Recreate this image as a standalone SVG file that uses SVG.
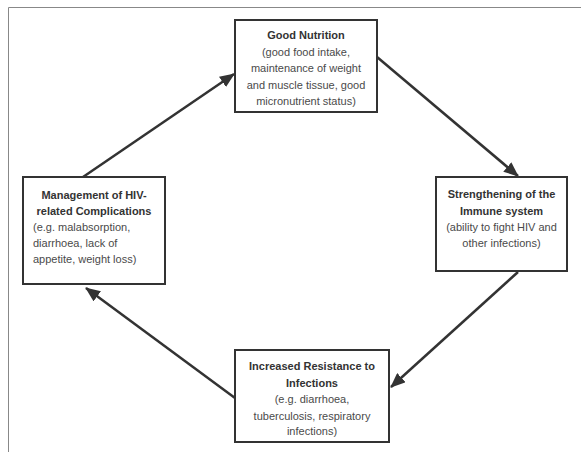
<svg xmlns="http://www.w3.org/2000/svg" width="581" height="452" viewBox="0 0 581 452">
<defs>
<style>
.box{fill:#fff;stroke:#333;stroke-width:2}
.t{font-family:"Liberation Sans",Arial,sans-serif;font-size:11px;fill:#4a4a4a;text-anchor:middle}
.b{font-weight:bold;fill:#333}
.l{text-anchor:start}
.arr{stroke:#333;stroke-width:2.5;fill:none;marker-end:url(#ah)}
.frame{stroke:#888;stroke-width:1;fill:none}
</style>
<marker id="ah" markerWidth="6" markerHeight="5" refX="5.6" refY="2.5" orient="auto" markerUnits="strokeWidth">
<path d="M0,0 L6,2.5 L0,5 z" fill="#333"/>
</marker>
</defs>
<rect width="581" height="452" fill="#fff"/>
<path class="frame" d="M8.5,452 V7.5 H581"/>
<g id="connectors">
<line class="arr" x1="83" y1="177" x2="234" y2="74"/>
<line class="arr" x1="377" y1="57" x2="518" y2="176"/>
<line class="arr" x1="518" y1="272" x2="391" y2="387"/>
<line class="arr" x1="235" y1="398" x2="86" y2="288"/>
</g>
<g id="good-nutrition">
<rect class="box" x="235" y="20" width="142" height="92"/>
<text class="t b" x="306" y="39">Good Nutrition</text>
<text class="t" x="306" y="55.5">(good food intake,</text>
<text class="t" x="306" y="72">maintenance of weight</text>
<text class="t" x="306" y="88.5">and muscle tissue, good</text>
<text class="t" x="306" y="105">micronutrient status)</text>
</g>
<g id="immune">
<rect class="box" x="436" y="177" width="131" height="94"/>
<text class="t b" x="501.5" y="198">Strengthening of the</text>
<text class="t b" x="501.5" y="215">Immune system</text>
<text class="t" x="501.5" y="231">(ability to fight HIV and</text>
<text class="t" x="501.5" y="247">other infections)</text>
</g>
<g id="resistance">
<rect class="box" x="235" y="350" width="154" height="92"/>
<text class="t b" x="312" y="370">Increased Resistance to</text>
<text class="t b" x="312" y="387">Infections</text>
<text class="t" x="312" y="403">(e.g. diarrhoea,</text>
<text class="t" x="312" y="420">tuberculosis, respiratory</text>
<text class="t" x="312" y="435">infections)</text>
</g>
<g id="management">
<rect class="box" x="23" y="177" width="142" height="107"/>
<text class="t b" x="94" y="199">Management of HIV-</text>
<text class="t b" x="94" y="215">related Complications</text>
<text class="t l" x="33" y="231">(e.g. malabsorption,</text>
<text class="t l" x="33" y="247">diarrhoea, lack of</text>
<text class="t l" x="33" y="263">appetite, weight loss)</text>
</g>
</svg>
